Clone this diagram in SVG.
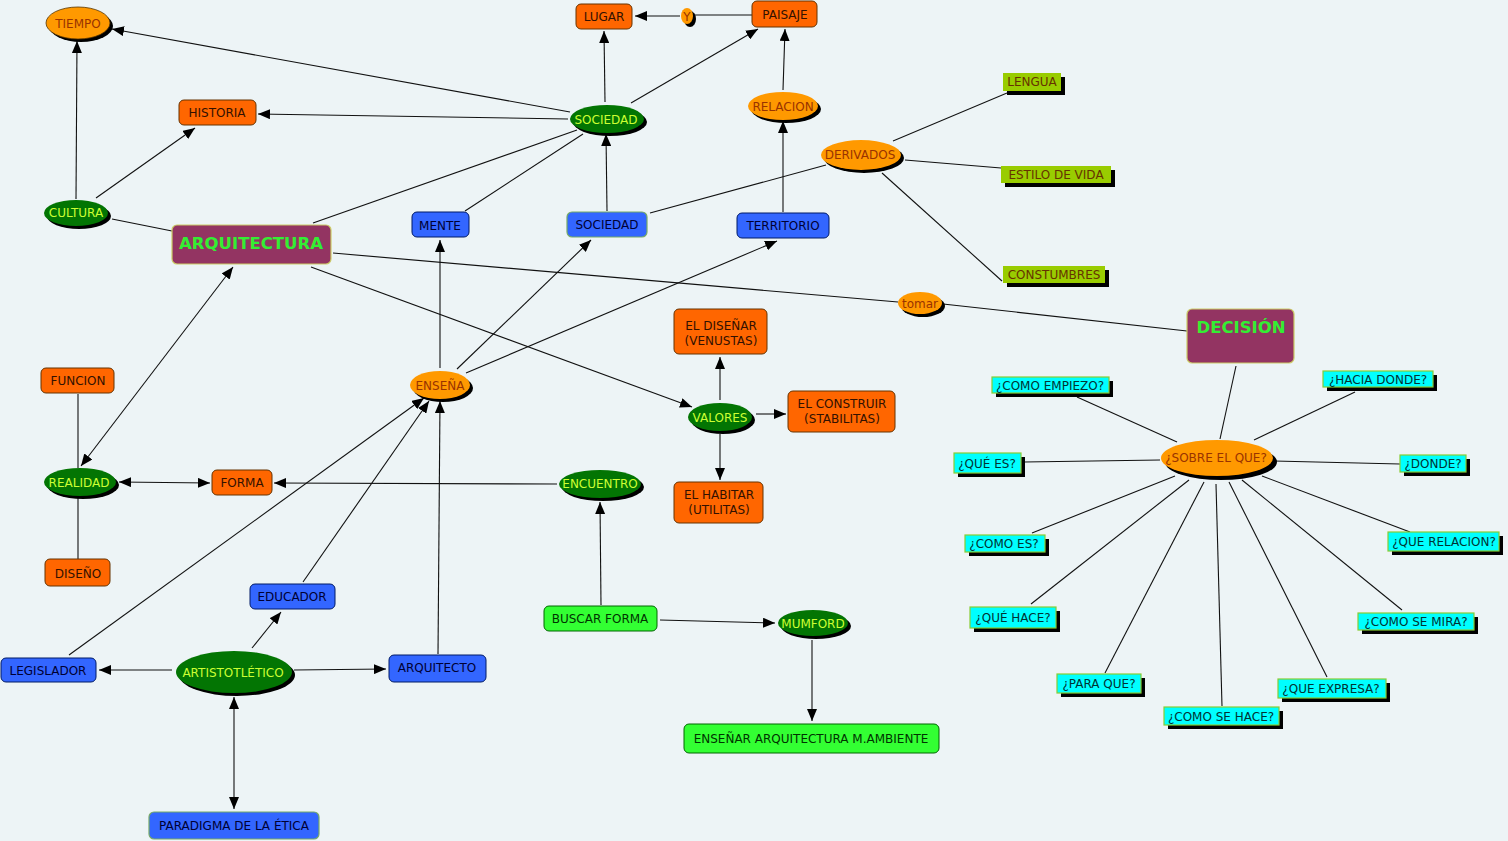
<svg xmlns="http://www.w3.org/2000/svg" width="1508" height="841" viewBox="0 0 1508 841">
<defs>
<marker id="arr" viewBox="0 0 12 10" refX="12" refY="5" markerWidth="12" markerHeight="10" markerUnits="userSpaceOnUse" orient="auto-start-reverse">
<path d="M0,0 L12,5 L0,10 z" fill="#000"/>
</marker>
</defs>
<style>
text{font-family:"DejaVu Sans","Verdana",sans-serif;font-size:12px;text-anchor:middle}
.c line{stroke:#111;stroke-width:1.1;fill:none}
.a{marker-end:url(#arr)}
.b{marker-start:url(#arr);marker-end:url(#arr)}
.sh{fill:#000}
.or{fill:#FF6600;stroke:#663300;stroke-width:1}
.tor{fill:#331100}
.oe{fill:#FF9900}
.toe{fill:#993300}
.ge{fill:#037503}
.tge{fill:#CCFF33}
.bl{fill:#3366FF;stroke:#001a66;stroke-width:1}
.blg{fill:#3366FF;stroke:#77aa66;stroke-width:1.2}
.tbl{fill:#000033}
.pu{fill:#933462;stroke:#cccc66;stroke-width:1.2}
.tpu{fill:#33EE33;font-weight:bold;font-size:16.5px}
.yg{fill:#99CC00}
.tyg{fill:#663300}
.cy{fill:#00FFFF;stroke:#88CC33;stroke-width:1.2}
.tcy{fill:#003333}
.gr{fill:#33FF33;stroke:#006600;stroke-width:1}
.tgr{fill:#003300}
</style>
<rect width="1508" height="841" fill="#EDF4F6"/>

<g id="connectors" class="c">
<line class="a" x1="76" y1="199" x2="77" y2="41"/>
<line class="a" x1="96" y1="198" x2="195" y2="128"/>
<line x1="112" y1="219" x2="172" y2="231"/>
<line class="a" x1="570" y1="112" x2="112" y2="29"/>
<line class="a" x1="568" y1="119" x2="258" y2="114"/>
<line class="a" x1="605" y1="102" x2="604" y2="31"/>
<line class="a" x1="631" y1="103" x2="758" y2="29"/>
<line x1="313" y1="223" x2="577" y2="130"/>
<line x1="465" y1="211" x2="583" y2="134"/>
<line class="a" x1="607" y1="211" x2="606" y2="134"/>
<line x1="650" y1="213" x2="826" y2="165"/>
<line class="a" x1="783" y1="212" x2="783" y2="121"/>
<line class="a" x1="783" y1="90" x2="785" y2="29"/>
<line x1="752" y1="15" x2="694" y2="15"/>
<line class="a" x1="680" y1="16" x2="635" y2="16"/>
<line x1="893" y1="141" x2="1007" y2="93"/>
<line x1="905" y1="160" x2="1001" y2="168"/>
<line x1="882" y1="173" x2="1002" y2="281"/>
<line x1="333" y1="253" x2="898" y2="302"/>
<line x1="943" y1="304" x2="1187" y2="331"/>
<line class="a" x1="311" y1="267" x2="692" y2="407"/>
<line class="b" x1="81" y1="466" x2="233" y2="267"/>
<line x1="78" y1="394" x2="78" y2="468"/>
<line x1="78" y1="497" x2="78" y2="559"/>
<line class="b" x1="119" y1="482" x2="210" y2="483"/>
<line class="a" x1="557" y1="484" x2="274" y2="483"/>
<line class="a" x1="440" y1="368" x2="440" y2="240"/>
<line class="a" x1="457" y1="369" x2="591" y2="240"/>
<line class="a" x1="466" y1="373" x2="777" y2="241"/>
<line class="a" x1="69" y1="655" x2="424" y2="398"/>
<line class="a" x1="303" y1="582" x2="429" y2="401"/>
<line class="a" x1="438" y1="654" x2="440" y2="401"/>
<line class="a" x1="252" y1="648" x2="281" y2="612"/>
<line class="a" x1="172" y1="670" x2="99" y2="670"/>
<line class="a" x1="294" y1="670" x2="386" y2="669"/>
<line class="b" x1="234" y1="697" x2="234" y2="809"/>
<line class="a" x1="720" y1="400" x2="720" y2="357"/>
<line class="a" x1="756" y1="414" x2="786" y2="414"/>
<line class="a" x1="720" y1="434" x2="720" y2="480"/>
<line class="a" x1="601" y1="605" x2="600" y2="502"/>
<line class="a" x1="660" y1="620" x2="775" y2="623"/>
<line class="a" x1="812" y1="640" x2="812" y2="721"/>
<line x1="1220" y1="439" x2="1236" y2="366"/>
<line x1="1077" y1="397" x2="1177" y2="442"/>
<line x1="1355" y1="392" x2="1254" y2="440"/>
<line x1="1024" y1="462" x2="1160" y2="460"/>
<line x1="1274" y1="461" x2="1400" y2="464"/>
<line x1="1032" y1="533" x2="1175" y2="476"/>
<line x1="1031" y1="604" x2="1189" y2="480"/>
<line x1="1105" y1="673" x2="1204" y2="482"/>
<line x1="1222" y1="706" x2="1216" y2="484"/>
<line x1="1327" y1="677" x2="1229" y2="482"/>
<line x1="1402" y1="610" x2="1242" y2="480"/>
<line x1="1410" y1="532" x2="1262" y2="476"/>
</g>

<g id="tiempo"><ellipse class="sh" cx="81" cy="26" rx="32" ry="16"/><ellipse class="oe" cx="78" cy="23" rx="32" ry="16" stroke="#553300" stroke-width="0.8"/><text class="toe" x="78" y="27.5">TIEMPO</text></g>
<g id="historia"><rect class="or" x="179" y="100" width="77" height="25" rx="5"/><text class="tor" x="217" y="117">HISTORIA</text></g>
<g id="cultura"><ellipse class="sh" cx="79" cy="216" rx="32" ry="13"/><ellipse class="ge" cx="76" cy="213" rx="32" ry="13"/><text class="tge" x="76" y="216.5">CULTURA</text></g>
<g id="arquitectura"><rect class="pu" x="172" y="225" width="159" height="39" rx="5"/><text class="tpu" x="251" y="249">ARQUITECTURA</text></g>
<g id="lugar"><rect class="or" x="576" y="4" width="56" height="25" rx="5"/><text class="tor" x="604" y="20.5">LUGAR</text></g>
<g id="y"><ellipse class="sh" cx="690" cy="19" rx="6" ry="8"/><ellipse class="oe" cx="687" cy="16" rx="6" ry="8"/><text class="toe" x="687" y="20.5">Y</text></g>
<g id="paisaje"><rect class="or" x="752" y="1" width="65" height="26" rx="5"/><text class="tor" x="785" y="18.5">PAISAJE</text></g>
<g id="sociedad1"><ellipse class="sh" cx="610" cy="122" rx="37" ry="14"/><ellipse class="ge" cx="607" cy="119" rx="37" ry="14"/><text class="tge" x="606" y="123.5">SOCIEDAD</text></g>
<g id="relacion"><ellipse class="sh" cx="786" cy="109" rx="35" ry="14"/><ellipse class="oe" cx="783" cy="106" rx="35" ry="14"/><text class="toe" x="783" y="110.5">RELACION</text></g>
<g id="sociedad2"><rect class="blg" x="567" y="212" width="80" height="25" rx="5"/><text class="tbl" x="607" y="228.5">SOCIEDAD</text></g>
<g id="territorio"><rect class="bl" x="737" y="213" width="92" height="25" rx="5"/><text class="tbl" x="783" y="229.5">TERRITORIO</text></g>
<g id="mente"><rect class="bl" x="412" y="212" width="57" height="25" rx="5"/><text class="tbl" x="440" y="229.5">MENTE</text></g>
<g id="derivados"><ellipse class="sh" cx="864" cy="158" rx="40" ry="15"/><ellipse class="oe" cx="861" cy="155" rx="40" ry="15"/><text class="toe" x="860" y="159">DERIVADOS</text></g>
<g id="lengua"><rect class="sh" x="1007" y="77" width="58" height="18"/><rect class="yg" x="1003" y="73" width="58" height="18"/><text class="tyg" x="1032" y="86">LENGUA</text></g>
<g id="estilo"><rect class="sh" x="1005" y="170" width="110" height="17"/><rect class="yg" x="1001" y="166" width="110" height="17"/><text class="tyg" x="1056" y="178.5">ESTILO DE VIDA</text></g>
<g id="constumbres"><rect class="sh" x="1007" y="270" width="102" height="17"/><rect class="yg" x="1003" y="266" width="102" height="17"/><text class="tyg" x="1054" y="278.5">CONSTUMBRES</text></g>
<g id="tomar"><ellipse class="sh" cx="923" cy="306" rx="22" ry="11"/><ellipse class="oe" cx="920" cy="303" rx="22" ry="11"/><text class="toe" x="920" y="307.5">tomar</text></g>
<g id="decision"><rect class="pu" x="1187" y="309" width="107" height="54" rx="5"/><text class="tpu" x="1241" y="333">DECISIÓN</text></g>
<g id="sobre"><ellipse class="sh" cx="1221" cy="462" rx="56" ry="18"/><ellipse class="oe" cx="1217" cy="458" rx="56" ry="18"/><text class="toe" x="1216" y="462">¿SOBRE EL QUE?</text></g>
<g id="empiezo"><rect class="sh" x="996" y="381" width="117" height="16"/><rect class="cy" x="992" y="377" width="117" height="16"/><text class="tcy" x="1050" y="389.5">¿COMO EMPIEZO?</text></g>
<g id="hacia"><rect class="sh" x="1327" y="375" width="110" height="16"/><rect class="cy" x="1323" y="371" width="110" height="16"/><text class="tcy" x="1378" y="383.5">¿HACIA DONDE?</text></g>
<g id="quees"><rect class="sh" x="958" y="457" width="67" height="20"/><rect class="cy" x="954" y="453" width="67" height="20"/><text class="tcy" x="987" y="467.5">¿QUÉ ES?</text></g>
<g id="donde"><rect class="sh" x="1404" y="459" width="66" height="17"/><rect class="cy" x="1400" y="455" width="66" height="17"/><text class="tcy" x="1433" y="468">¿DONDE?</text></g>
<g id="comoes"><rect class="sh" x="969" y="539" width="80" height="17"/><rect class="cy" x="965" y="535" width="80" height="17"/><text class="tcy" x="1004" y="548">¿COMO ES?</text></g>
<g id="relacion2"><rect class="sh" x="1392" y="536" width="111" height="19"/><rect class="cy" x="1388" y="532" width="111" height="19"/><text class="tcy" x="1444" y="546">¿QUE RELACION?</text></g>
<g id="quehace"><rect class="sh" x="974" y="611" width="86" height="21"/><rect class="cy" x="970" y="607" width="86" height="21"/><text class="tcy" x="1013" y="622">¿QUÉ HACE?</text></g>
<g id="mira"><rect class="sh" x="1362" y="617" width="116" height="17"/><rect class="cy" x="1358" y="613" width="116" height="17"/><text class="tcy" x="1416" y="626">¿COMO SE MIRA?</text></g>
<g id="paraque"><rect class="sh" x="1061" y="678" width="84" height="19"/><rect class="cy" x="1057" y="674" width="84" height="19"/><text class="tcy" x="1099" y="688">¿PARA QUE?</text></g>
<g id="expresa"><rect class="sh" x="1282" y="683" width="108" height="19"/><rect class="cy" x="1278" y="679" width="108" height="19"/><text class="tcy" x="1331" y="693">¿QUE EXPRESA?</text></g>
<g id="sehace"><rect class="sh" x="1168" y="711" width="115" height="18"/><rect class="cy" x="1164" y="707" width="115" height="18"/><text class="tcy" x="1221" y="720.5">¿COMO SE HACE?</text></g>
<g id="funcion"><rect class="or" x="41" y="368" width="73" height="25" rx="5"/><text class="tor" x="78" y="385">FUNCION</text></g>
<g id="realidad"><ellipse class="sh" cx="83" cy="485" rx="36" ry="14"/><ellipse class="ge" cx="80" cy="482" rx="36" ry="14"/><text class="tge" x="79" y="486.5">REALIDAD</text></g>
<g id="forma"><rect class="or" x="212" y="470" width="60" height="25" rx="5"/><text class="tor" x="242" y="487">FORMA</text></g>
<g id="diseno"><rect class="or" x="45" y="559" width="65" height="27" rx="5"/><text class="tor" x="78" y="578">DISEÑO</text></g>
<g id="ensena"><ellipse class="sh" cx="443" cy="388" rx="30" ry="14"/><ellipse class="oe" cx="440" cy="385" rx="30" ry="14"/><text class="toe" x="440" y="390">ENSEÑA</text></g>
<g id="educador"><rect class="bl" x="250" y="584" width="85" height="25" rx="5"/><text class="tbl" x="292" y="601">EDUCADOR</text></g>
<g id="legislador"><rect class="bl" x="1" y="658" width="95" height="24" rx="5"/><text class="tbl" x="48" y="674.5">LEGISLADOR</text></g>
<g id="aristotelico"><ellipse class="sh" cx="237" cy="675" rx="58" ry="21"/><ellipse class="ge" cx="234" cy="672" rx="58" ry="21"/><text class="tge" x="233" y="677">ARTISTOTLÉTICO</text></g>
<g id="arquitecto"><rect class="bl" x="389" y="655" width="97" height="27" rx="5"/><text class="tbl" x="437" y="672">ARQUITECTO</text></g>
<g id="paradigma"><rect class="blg" x="149" y="812" width="170" height="27" rx="5"/><text class="tbl" x="234" y="830">PARADIGMA DE LA ÉTICA</text></g>
<g id="disenar"><rect class="or" x="674" y="309" width="93" height="45" rx="5"/><text class="tor" x="721" y="329.5">EL DISEÑAR</text><text class="tor" x="721" y="344.5">(VENUSTAS)</text></g>
<g id="valores"><ellipse class="sh" cx="723" cy="420" rx="32" ry="14"/><ellipse class="ge" cx="720" cy="417" rx="32" ry="14"/><text class="tge" x="720" y="421.5">VALORES</text></g>
<g id="construir"><rect class="or" x="788" y="391" width="107" height="41" rx="5"/><text class="tor" x="842" y="408">EL CONSTRUIR</text><text class="tor" x="842" y="423">(STABILITAS)</text></g>
<g id="habitar"><rect class="or" x="674" y="482" width="89" height="41" rx="5"/><text class="tor" x="719" y="499">EL HABITAR</text><text class="tor" x="719" y="514">(UTILITAS)</text></g>
<g id="encuentro"><ellipse class="sh" cx="603" cy="487" rx="41" ry="14"/><ellipse class="ge" cx="600" cy="484" rx="41" ry="14"/><text class="tge" x="600" y="488">ENCUENTRO</text></g>
<g id="buscar"><rect class="gr" x="544" y="606" width="113" height="25" rx="5"/><text class="tgr" x="600" y="623">BUSCAR FORMA</text></g>
<g id="mumford"><ellipse class="sh" cx="816" cy="626" rx="35" ry="13"/><ellipse class="ge" cx="813" cy="623" rx="35" ry="13"/><text class="tge" x="813" y="627.5">MUMFORD</text></g>
<g id="ensenar"><rect class="gr" x="684" y="724" width="255" height="29" rx="5"/><text class="tgr" x="811" y="743">ENSEÑAR ARQUITECTURA M.AMBIENTE</text></g>
</svg>
